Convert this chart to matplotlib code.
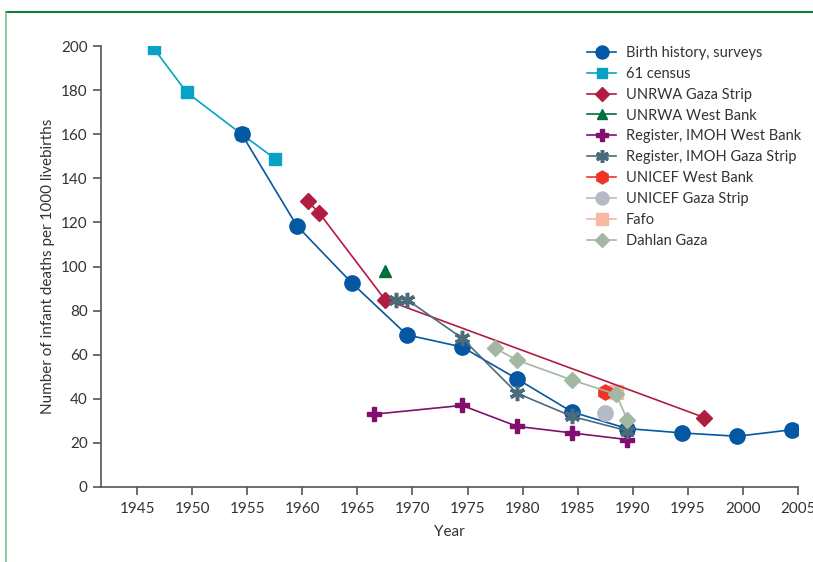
import matplotlib.pyplot as plt
from matplotlib.lines import Line2D

plt.rcParams['font.family'] = ['Lato', 'DejaVu Sans']

birth_x = [1954.5, 1959.5, 1964.5, 1969.5, 1974.5, 1979.5, 1984.5, 1989.5, 1994.5, 1999.5, 2004.5]
birth_y = [160, 118.5, 92.5, 69, 63.5, 49, 34, 26.5, 24.5, 23, 26]

census_x = [1946.5, 1949.5, 1954.5, 1957.5]
census_y = [199, 179, 160, 149]

unrwa_gaza_x = [1960.5, 1961.5, 1967.5, 1996.5]
unrwa_gaza_y = [129.5, 124.5, 85, 31.5]

unrwa_wb_x = [1967.5]
unrwa_wb_y = [98]

imoh_wb_x = [1966.5, 1974.5, 1979.5, 1984.5, 1989.5]
imoh_wb_y = [33, 37, 27.5, 24.5, 21.5]

imoh_gaza_x = [1968.5, 1969.5, 1974.5, 1979.5, 1984.5, 1989.5]
imoh_gaza_y = [85, 85, 67.5, 42.5, 32, 25.5]

unicef_wb_x = [1987.5]
unicef_wb_y = [43]

unicef_gaza_x = [1987.5]
unicef_gaza_y = [33.5]

fafo_x = [1988.5]
fafo_y = [43]

dahlan_x = [1977.5, 1979.5, 1984.5, 1988.5, 1989.5]
dahlan_y = [63, 57.5, 48.5, 42, 30.5]

fig = plt.figure(figsize=(8.13, 5.62), dpi=100)
ax = fig.add_axes([0.124, 0.1335, 0.8575, 0.7845])

ax.plot(census_x, census_y, color="#0aa2c4", marker="s", markersize=9, lw=1.2, label="61 census", zorder=2)
ax.plot(birth_x, birth_y, color="#0457a3", marker="o", markersize=11, lw=1.2, label="Birth history, surveys", zorder=3)
ax.plot(unrwa_gaza_x, unrwa_gaza_y, color="#b01d40", marker="D", markersize=8, lw=1.2, label="UNRWA Gaza Strip", zorder=3)
ax.plot(unrwa_wb_x, unrwa_wb_y, color="#00703c", marker="^", markersize=9, lw=1.2, label="UNRWA West Bank", zorder=3)
ax.plot(imoh_wb_x, imoh_wb_y, color="#820e6e", marker="P", markersize=10, lw=1.2, label="Register, IMOH West Bank", zorder=3)
ax.plot(imoh_gaza_x, imoh_gaza_y, color="#4b6b7a", marker=(6, 2, 0), markersize=11, mew=2.5, lw=1.2, label="Register, IMOH Gaza Strip", zorder=3)
ax.plot(unicef_wb_x, unicef_wb_y, color="#ee3427", marker="h", markersize=11, lw=1.2, label="UNICEF West Bank", zorder=3)
ax.plot(unicef_gaza_x, unicef_gaza_y, color="#b5bbc4", marker="o", markersize=11, lw=1.2, label="UNICEF Gaza Strip", zorder=3)
ax.plot(fafo_x, fafo_y, color="#f9b8a2", marker="s", markersize=10, lw=1.2, label="Fafo", zorder=2)
ax.plot(dahlan_x, dahlan_y, color="#a3b8a3", marker="D", markersize=8, lw=1.2, label="Dahlan Gaza", zorder=3)

order = ["Birth history, surveys", "61 census", "UNRWA Gaza Strip", "UNRWA West Bank",
         "Register, IMOH West Bank", "Register, IMOH Gaza Strip", "UNICEF West Bank",
         "UNICEF Gaza Strip", "Fafo", "Dahlan Gaza"]
handles, labels = ax.get_legend_handles_labels()
lookup = dict(zip(labels, handles))
leg = ax.legend([lookup[l] for l in order], order, loc="upper left", bbox_to_anchor=(0.679, 1.03),
                frameon=False, fontsize=10.5, handlelength=2.0, labelspacing=0.47, handletextpad=0.65,
                labelcolor="#333333", markerscale=0.85)

ax.set_xlim(1941.7, 2005)
ax.set_ylim(0, 200)
ax.set_xticks(range(1945, 2006, 5))
ax.set_yticks(range(0, 201, 20))
for s in ["top", "right"]:
    ax.spines[s].set_visible(False)
for s in ["left", "bottom"]:
    ax.spines[s].set_color("#555555")
    ax.spines[s].set_linewidth(1.2)
ax.tick_params(colors="#555555", labelcolor="#333333", labelsize=11, length=6, width=1.2)
ax.tick_params(axis="x", pad=5)
ax.set_xlabel("Year", fontsize=11, color="#333333", labelpad=6)
ax.set_ylabel("Number of infant deaths per 1000 livebirths", fontsize=11, color="#333333")

# green frame lines top and left
fig.add_artist(Line2D([0.0074, 1.0], [1 - 12 / 562, 1 - 12 / 562], color="#0a7a3e", lw=1.5))
fig.add_artist(Line2D([0.0074, 0.0074], [0, 1 - 12 / 562], color="#7fbf95", lw=1.2))

fig.savefig("out.png", dpi=100)
